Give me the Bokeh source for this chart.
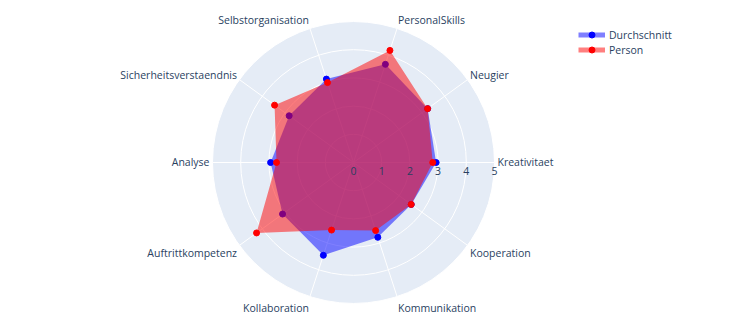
import math
from bokeh.plotting import figure
from bokeh.models import Range1d, Legend, LegendItem, ColumnDataSource
from bokeh.core.properties import value
from bokeh.embed import file_html
from bokeh.resources import INLINE

# ---- data ----
categories = ["Kreativitaet", "Neugier", "PersonalSkills", "Selbstorganisation",
              "Sicherheitsverstaendnis", "Analyse", "Auftrittkompetenz",
              "Kollaboration", "Kommunikation", "Kooperation"]
durchschnitt = [2.93, 3.25, 3.66, 3.11, 2.82, 2.94, 3.11, 3.46, 2.79, 2.53]
person = [2.81, 3.25, 4.18, 2.98, 3.46, 2.73, 4.25, 2.52, 2.54, 2.53]
radial_ticks = [0, 1, 2, 3, 4, 5]
series_names = ["Durchschnitt", "Person"]

# ---- layout constants ----
W, H = 750, 332
CX, CY = 353, 162          # centre in pixels (from left / top)
RMAX = 5
S = 141 / RMAX             # pixels per unit
FONT = "Open Sans"
FSIZE = "10.5px"
TXT = "#2a3f5f"
BG = "#E5ECF6"
BASE_SHIFT = -4.5          # correction for baseline rendering

p = figure(width=W, height=H, output_backend="svg", toolbar_location=None,
           x_range=Range1d(-CX / S, (W - CX) / S),
           y_range=Range1d(-(H - CY) / S, CY / S),
           x_axis_location=None, y_axis_location=None, min_border=0)
p.grid.visible = False
p.outline_line_color = None
p.background_fill_color = "white"

n = len(categories)
angles = [2 * math.pi * i / n for i in range(n)]

# polar background
p.circle(x=[0], y=[0], radius=RMAX, fill_color=BG, line_color="white", line_width=1)
for t in radial_ticks[1:-1]:
    p.circle(x=[0], y=[0], radius=t, fill_color=None, line_color="white", line_width=1)
p.segment(x0=[0] * n, y0=[0] * n,
          x1=[RMAX * math.cos(a) for a in angles],
          y1=[RMAX * math.sin(a) for a in angles],
          line_color="white", line_width=1)


def polar_xy(vals):
    return ([v * math.cos(a) for v, a in zip(vals, angles)],
            [v * math.sin(a) for v, a in zip(vals, angles)])


renderers = {}
for name, vals, col in [(series_names[0], durchschnitt, "blue"),
                        (series_names[1], person, "red")]:
    xs, ys = polar_xy(vals)
    p.patch(xs, ys, fill_color=col, fill_alpha=0.5, line_color=None)
    sc = p.scatter(xs, ys, size=6, color=col)
    ln = p.line(x=xs, y=ys, line_color=col, line_alpha=0.5, line_width=5, visible=False)
    renderers[name] = (ln, sc)

# radial tick labels
p.text(x=radial_ticks, y=[0] * len(radial_ticks), text=[str(t) for t in radial_ticks],
       text_font=value(FONT), text_font_size=FSIZE, text_color=TXT,
       text_align="center", text_baseline="alphabetic", y_offset=12.5 + BASE_SHIFT)

# angular labels
pad = 3
fs = 12
lx, ly, xo, yo, al = [], [], [], [], []
for a in angles:
    c, s = math.cos(a), math.sin(a)
    lx.append(RMAX * c)
    ly.append(RMAX * s)
    xo.append(c * pad)
    ff = 0.2 if s > 1e-9 else 1
    yo.append(-s * (pad + fs * ff) + abs(c) * fs * 0.35 + BASE_SHIFT)
    al.append("center" if abs(c) < 0.1 else ("left" if c > 0 else "right"))
src = ColumnDataSource(dict(x=lx, y=ly, xo=xo, yo=yo, al=al, t=categories))
p.text(x="x", y="y", text="t", x_offset="xo", y_offset="yo", text_align="al",
       source=src, text_font=value(FONT), text_font_size=FSIZE, text_color=TXT,
       text_baseline="alphabetic")

legend = Legend(items=[LegendItem(label=nm, renderers=list(renderers[nm])) for nm in series_names],
                location=(578, 275), padding=0, margin=0, spacing=0,
                glyph_width=27, glyph_height=15, label_height=15, label_standoff=4,
                label_text_font=FONT, label_text_font_size=FSIZE, label_text_color=TXT,
                border_line_color=None, background_fill_alpha=0)
p.add_layout(legend)

open("out.html", "w").write(file_html(p, INLINE))
